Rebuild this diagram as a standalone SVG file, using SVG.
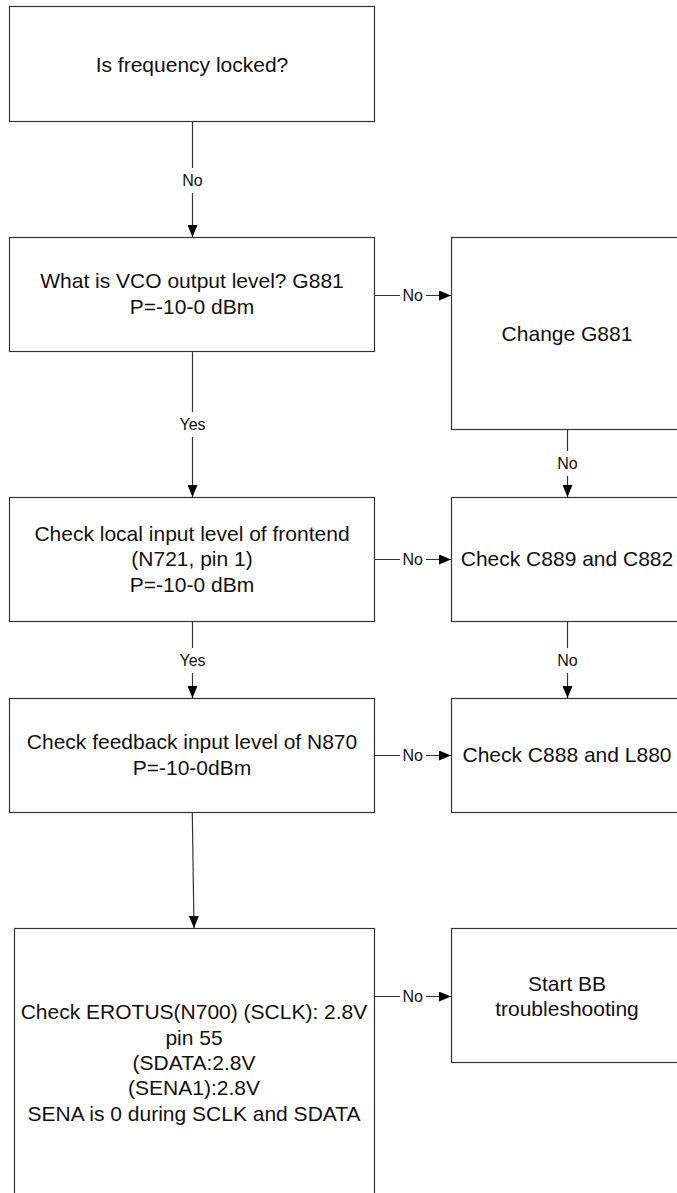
<svg xmlns="http://www.w3.org/2000/svg" width="677" height="1193" viewBox="0 0 677 1193">
  <style>
    .box { fill: #ffffff; stroke: #333333; stroke-width: 1.2; }
    .t { font-family: "Liberation Sans", Arial, sans-serif; font-size: 21px; fill: #111111; text-anchor: middle; }
    .lbl { font-family: "Liberation Sans", Arial, sans-serif; font-size: 16px; fill: #111111; text-anchor: middle; }
    .edge { stroke: #333333; stroke-width: 1.2; fill: none; marker-end: url(#arrow); }
    .gap { fill: #ffffff; }
  </style>
  <defs>
    <marker id="arrow" markerUnits="userSpaceOnUse" markerWidth="12" markerHeight="10" refX="12" refY="5" orient="auto">
      <path d="M0,0 L12,5 L0,10 z" fill="#000000"/>
    </marker>
  </defs>
  <rect x="0" y="0" width="677" height="1193" fill="#ffffff"/>

  <!-- connectors -->
  <g id="connectors">
    <line class="edge" x1="192.5" y1="121.5" x2="192.5" y2="237"/>
    <rect class="gap" x="180" y="168" width="25" height="25"/>
    <text class="lbl" x="192.5" y="185.6">No</text>

    <line class="edge" x1="374.5" y1="295.5" x2="451" y2="295.5"/>
    <rect class="gap" x="400" y="288" width="26" height="15"/>
    <text class="lbl" x="412.7" y="300.6">No</text>

    <line class="edge" x1="567.5" y1="429.5" x2="567.5" y2="497"/>
    <rect class="gap" x="555" y="451" width="25" height="25"/>
    <text class="lbl" x="567.5" y="468.6">No</text>

    <line class="edge" x1="192.5" y1="352" x2="192.5" y2="497"/>
    <rect class="gap" x="177" y="412" width="31" height="25"/>
    <text class="lbl" x="192.5" y="430">Yes</text>

    <line class="edge" x1="374.5" y1="559.5" x2="451" y2="559.5"/>
    <rect class="gap" x="400" y="552" width="26" height="15"/>
    <text class="lbl" x="412.7" y="564.6">No</text>

    <line class="edge" x1="567.5" y1="621.5" x2="567.5" y2="698"/>
    <rect class="gap" x="555" y="648" width="25" height="25"/>
    <text class="lbl" x="567.5" y="665.6">No</text>

    <line class="edge" x1="192.5" y1="621.5" x2="192.5" y2="698"/>
    <rect class="gap" x="177" y="648" width="31" height="25"/>
    <text class="lbl" x="192.5" y="665.6">Yes</text>

    <line class="edge" x1="374.5" y1="755.5" x2="451" y2="755.5"/>
    <rect class="gap" x="400" y="748" width="26" height="15"/>
    <text class="lbl" x="412.7" y="760.6">No</text>

    <line class="edge" x1="192.3" y1="813" x2="194" y2="928"/>

    <line class="edge" x1="374.5" y1="996.5" x2="451" y2="996.5"/>
    <rect class="gap" x="400" y="989" width="26" height="15"/>
    <text class="lbl" x="412.7" y="1001.6">No</text>
  </g>

  <g id="n-locked">
    <rect class="box" x="9.5" y="6.5" width="365" height="115"/>
    <text class="t" x="192" y="72.4">Is frequency locked?</text>
  </g>

  <g id="n-vco-level">
    <rect class="box" x="9.5" y="237.5" width="365" height="114"/>
    <text class="t" x="192" y="288.4">What is VCO output level? G881</text>
    <text class="t" x="192" y="314.4">P=-10-0 dBm</text>
  </g>

  <g id="n-change-g881">
    <rect class="box" x="451.5" y="237.5" width="231" height="192"/>
    <text class="t" x="567" y="341.4">Change G881</text>
  </g>

  <g id="n-local-input">
    <rect class="box" x="9.5" y="497.5" width="365" height="124"/>
    <text class="t" x="192" y="540.7">Check local input level of frontend</text>
    <text class="t" x="192" y="566.4">(N721, pin 1)</text>
    <text class="t" x="192" y="592.1">P=-10-0 dBm</text>
  </g>

  <g id="n-c889">
    <rect class="box" x="451.5" y="497.5" width="231" height="124"/>
    <text class="t" x="567" y="566.4">Check C889 and C882</text>
  </g>

  <g id="n-feedback">
    <rect class="box" x="9.5" y="698.5" width="365" height="114"/>
    <text class="t" x="192" y="749.4">Check feedback input level of N870</text>
    <text class="t" x="192" y="775.4">P=-10-0dBm</text>
  </g>

  <g id="n-c888">
    <rect class="box" x="451.5" y="698.5" width="231" height="114"/>
    <text class="t" x="567" y="762.4">Check C888 and L880</text>
  </g>

  <g id="n-erotus">
    <rect class="box" x="14.5" y="928.5" width="360" height="280"/>
    <text class="t" x="194" y="1019.1">Check EROTUS(N700) (SCLK): 2.8V</text>
    <text class="t" x="194" y="1044.5">pin 55</text>
    <text class="t" x="194" y="1069.9">(SDATA:2.8V</text>
    <text class="t" x="194" y="1095.3">(SENA1):2.8V</text>
    <text class="t" x="194" y="1120.7">SENA is 0 during SCLK and SDATA</text>
  </g>

  <g id="n-bb">
    <rect class="box" x="451.5" y="928.5" width="231" height="134"/>
    <text class="t" x="567" y="990.7">Start BB</text>
    <text class="t" x="567" y="1016.4">troubleshooting</text>
  </g>
</svg>
